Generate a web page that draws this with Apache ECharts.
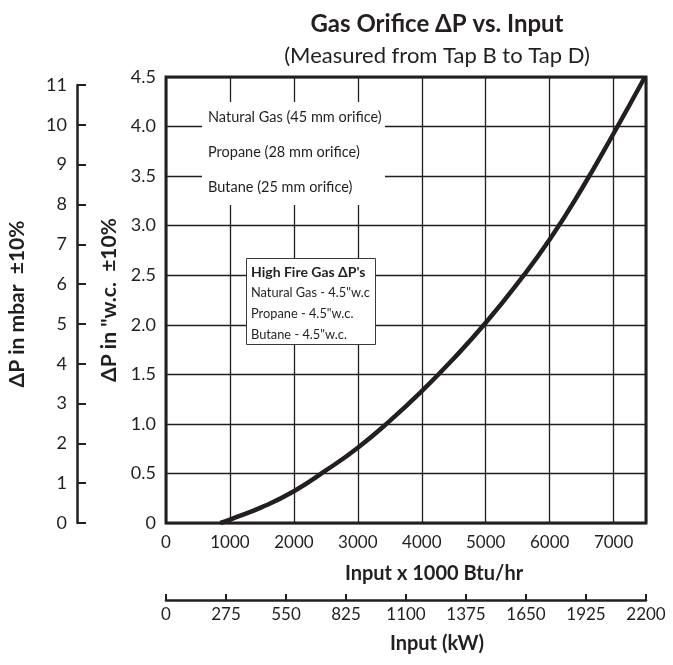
<!DOCTYPE html>
<html>
<head>
<meta charset="utf-8">
<script src="https://cdn.jsdelivr.net/npm/echarts@6/dist/echarts.min.js"></script>
<style>
  html, body { margin: 0; padding: 0; background: #fff; }
  #chart { width: 673px; height: 665px; }
</style>
</head>
<body>
<div id="chart"></div>
<script>
// curve: input (x 1000 Btu/hr) vs dP ("w.c.)
const inputBtu = [850, 1000, 1500, 2000, 2500, 3000, 3500, 4000, 4500, 5000, 5500, 6000, 6500, 7000, 7490];
const deltaP = [0, 0.035, 0.16, 0.32, 0.53, 0.76, 1.03, 1.33, 1.66, 2.02, 2.42, 2.86, 3.37, 3.93, 4.5];

const legendLines = ['Natural Gas (45 mm orifice)', 'Propane (28 mm orifice)', 'Butane (25 mm orifice)'];
const highFireLines = ['Natural Gas - 4.5"w.c', 'Propane - 4.5"w.c.', 'Butane - 4.5"w.c.'];

const KW_MAX = 2200;
const BTU_PER_KW = 3.41214;

const ink = '#231f20';
const font = 'Lato, "Open Sans", sans-serif';

const chart = echarts.init(document.getElementById('chart'));

const graphics = [
  { type: 'text', x: 437, y: 24, z: 100,
    style: { text: 'Gas Orifice \u0394P vs. Input', font: 'bold 24px ' + font, fill: ink, textAlign: 'center', textVerticalAlign: 'middle' } },
  { type: 'text', x: 437, y: 56, z: 100,
    style: { text: '(Measured from Tap B to Tap D)', font: '22px ' + font, fill: ink, textAlign: 'center', textVerticalAlign: 'middle' } },
  { type: 'rect', z: 50, shape: { x: 202, y: 102, width: 183, height: 103 }, style: { fill: '#fff' } },
  { type: 'rect', z: 50, shape: { x: 246.5, y: 258.5, width: 129, height: 86 }, style: { fill: '#fff', stroke: '#3a3a3a', lineWidth: 1 } },
  { type: 'text', x: 251, y: 272, z: 60,
    style: { text: 'High Fire Gas \u0394P\'s', font: 'bold 14px ' + font, fill: ink, textVerticalAlign: 'middle' } }
];
legendLines.forEach((t, i) => {
  graphics.push({ type: 'text', x: 208, y: 117 + i * 35, z: 60,
    style: { text: t, font: '14.5px ' + font, fill: ink, textVerticalAlign: 'middle' } });
});
highFireLines.forEach((t, i) => {
  graphics.push({ type: 'text', x: 251, y: 293 + i * 21, z: 60,
    style: { text: t, font: '12.8px ' + font, fill: ink, textVerticalAlign: 'middle' } });
});

chart.setOption({
  backgroundColor: '#fff',
  animation: false,
  textStyle: { fontFamily: font, color: ink },
  grid: [
    { left: 166, right: 27, top: 77, bottom: 142, show: true, borderColor: ink, borderWidth: 3, backgroundColor: 'transparent' },
    { left: 77, width: 10, top: 85, bottom: 142 }
  ],
  xAxis: [
    {
      type: 'value', gridIndex: 0, min: 0, max: KW_MAX * BTU_PER_KW, interval: 1000,
      axisLine: { show: false }, axisTick: { show: false },
      splitLine: { show: true, lineStyle: { color: ink, width: 1.3 } },
      axisLabel: { fontSize: 17, color: ink, margin: 11, formatter: v => (v % 1000 === 0 ? String(v) : '') },
      name: 'Input x 1000 Btu/hr', nameLocation: 'middle', nameGap: 41,
      nameTextStyle: { fontSize: 20, fontWeight: 'bold', color: ink, padding: [0, 0, 0, 56] }
    },
    {
      type: 'value', gridIndex: 0, position: 'bottom', offset: 77, min: 0, max: KW_MAX, interval: 275,
      axisLine: { show: true, lineStyle: { color: ink, width: 2.5 } },
      axisTick: { show: true, inside: true, length: 6, lineStyle: { color: ink, width: 2 } },
      splitLine: { show: false },
      axisLabel: { fontSize: 17, color: ink, margin: 6, formatter: v => String(v) },
      name: 'Input (kW)', nameLocation: 'middle', nameGap: 34,
      nameTextStyle: { fontSize: 20, fontWeight: 'bold', color: ink, padding: [0, 0, 0, 62] }
    },
    { type: 'value', gridIndex: 1, show: false, min: 0, max: 1 }
  ],
  yAxis: [
    {
      type: 'value', gridIndex: 0, min: 0, max: 4.5, interval: 0.5,
      axisLine: { show: false }, axisTick: { show: false },
      splitLine: { show: true, lineStyle: { color: ink, width: 1.3 } },
      axisLabel: { fontSize: 18, color: ink, margin: 10, formatter: v => (v === 0 ? '0' : v.toFixed(1)) },
      name: '\u0394P in "w.c.  \u00b110%', nameLocation: 'middle', nameGap: 45, nameRotate: 90,
      nameTextStyle: { fontSize: 21, fontWeight: 'bold', color: ink }
    },
    {
      type: 'value', gridIndex: 1, min: 0, max: 11, interval: 1,
      axisLine: { show: true, lineStyle: { color: ink, width: 2.5 } },
      axisTick: { show: true, inside: true, length: 9, lineStyle: { color: ink, width: 2 } },
      splitLine: { show: false },
      axisLabel: { fontSize: 18, color: ink, margin: 10 },
      name: '\u0394P in mbar  \u00b110%', nameLocation: 'middle', nameGap: 49, nameRotate: 90,
      nameTextStyle: { fontSize: 21, fontWeight: 'bold', color: ink }
    }
  ],
  series: [{
    type: 'line',
    xAxisIndex: 0, yAxisIndex: 0,
    data: inputBtu.map((x, i) => [x, deltaP[i]]),
    smooth: 0.5,
    symbol: 'none',
    lineStyle: { color: ink, width: 4.5 },
    z: 5
  }],
  graphic: graphics
});
</script>
</body>
</html>
